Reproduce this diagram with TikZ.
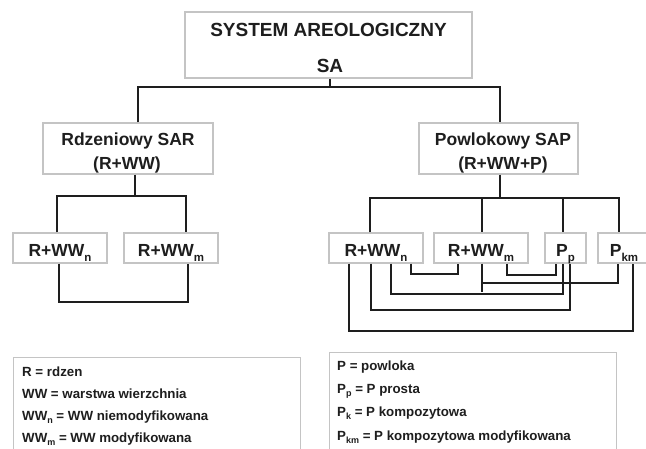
\documentclass[tikz,border=0pt]{standalone}
\usepackage{fontspec}
\setmainfont{Liberation Sans}
\definecolor{ink}{HTML}{1E1E1E}
\definecolor{boxgray}{HTML}{C4C4C4}
\newcommand\bsub[1]{\raisebox{-5pt}{\fontsize{11.5pt}{12pt}\selectfont #1}}
\newcommand\lsub[1]{\raisebox{-3.5pt}{\fontsize{9pt}{10pt}\selectfont #1}}
\begin{document}
\begin{tikzpicture}[x=1pt,y=-1pt,
  box/.style={draw=boxgray, line width=1.1pt, fill=white, inner sep=0pt},
  lbl/.style={font=\fontsize{17.5pt}{20pt}\selectfont\bfseries, text=ink, inner sep=0pt},
  ttl/.style={font=\fontsize{19pt}{22pt}\selectfont\bfseries, text=ink, inner sep=0pt, anchor=base},
  smallbox/.style={box, lbl, minimum height=30pt, text height=16pt, text depth=0pt},
  legt/.style={font=\fontsize{13.3pt}{15pt}\selectfont\bfseries, text=ink, inner sep=0pt, anchor=base west},
  conn/.style={draw=ink, line width=2pt}]
\useasboundingbox (0,0) rectangle (646,448);
\clip (0,0) rectangle (646,448);
\fill[white] (0,0) rectangle (646,448);

% boxes
\node[box, minimum width=287pt, minimum height=66pt] (sa) at (328.5,45) {};
\node[ttl] (satxt1) at (328.5,36) {SYSTEM AREOLOGICZNY};
\node[ttl] (satxt2) at (330,72) {SA};

\node[box, minimum width=170pt, minimum height=51pt] (sar) at (128,148.5) {};
\node[lbl, anchor=base] (sart1) at (128,145.5) {Rdzeniowy SAR};
\node[lbl, anchor=base] (sart2) at (127,169.5) {(R+WW)};

\node[box, minimum width=159pt, minimum height=51pt] (sap) at (498.5,148.5) {};
\node[lbl, anchor=base] (sapt1) at (503,145.5) {Powlokowy SAP};
\node[lbl, anchor=base] (sapt2) at (503,169.5) {(R+WW+P)};

\node[smallbox, minimum width=94pt] (ln) at (60,248) {R+WW\bsub{n}};
\node[smallbox, minimum width=94pt] (lm) at (171,248) {R+WW\bsub{m}};

\node[smallbox, minimum width=94pt] (rn) at (376,248) {R+WW\bsub{n}};
\node[smallbox, minimum width=94pt] (rm) at (481,248) {R+WW\bsub{m}};
\node[smallbox, minimum width=41pt] (pp) at (565.5,248) {P\bsub{p}};
\node[smallbox, minimum width=52pt] (pkm) at (624,248) {P\bsub{km}};

% legends
\node[box, anchor=north west, minimum width=287pt, minimum height=120pt] (lg1) at (13,357) {};
\node[legt] (l1) at (22,376) {R = rdzen};
\node[legt] (l2) at (22,398) {WW = warstwa wierzchnia};
\node[legt] (l3) at (22,420) {WW\lsub{n} = WW niemodyfikowana};
\node[legt] (l4) at (22,442) {WW\lsub{m} = WW modyfikowana};

\node[box, anchor=north west, minimum width=287pt, minimum height=120pt] (lg2) at (329,352) {};
\node[legt] (r1) at (337,370) {P = powloka};
\node[legt] (r2) at (337,393) {P\lsub{p} = P prosta};
\node[legt] (r3) at (337,416) {P\lsub{k} = P kompozytowa};
\node[legt] (r4) at (337,440) {P\lsub{km} = P kompozytowa modyfikowana};

% connector coordinates
\coordinate (b0) at (330,87);
\coordinate (bl) at (138,87);
\coordinate (br) at (500,87);
\coordinate (c0) at (135,196);
\coordinate (cl) at (57,196);
\coordinate (cr) at (186,196);
\coordinate (d1) at (59,302);
\coordinate (d2) at (188,302);
\coordinate (e0) at (500,198);
\coordinate (el) at (370,198);
\coordinate (er) at (619,198);
\coordinate (em) at (482,198);
\coordinate (ep) at (563,198);
\coordinate (f1) at (411,274);
\coordinate (f2) at (458,274);
\coordinate (g1) at (507,275);
\coordinate (g2) at (556,275);
\coordinate (h0) at (482,292);
\coordinate (h1) at (482,283);
\coordinate (h2) at (618,283);
\coordinate (i1) at (391,294);
\coordinate (i2) at (563,294);
\coordinate (j1) at (371,310);
\coordinate (j2) at (570,310);
\coordinate (k1) at (349,331);
\coordinate (k2) at (633,331);

% connectors
\draw[conn] (sa.south -| b0) -- (b0);
\draw[conn] (sar.north -| bl) -- (bl) -- (br) -- (sap.north -| br);
\draw[conn] (sar.south -| c0) -- (c0);
\draw[conn] (ln.north -| cl) -- (cl) -- (cr) -- (lm.north -| cr);
\draw[conn] (ln.south -| d1) -- (d1) -- (d2) -- (lm.south -| d2);
\draw[conn] (sap.south -| e0) -- (e0);
\draw[conn] (rn.north -| el) -- (el) -- (er) -- (pkm.north -| er);
\draw[conn] (em) -- (rm.north -| em);
\draw[conn] (ep) -- (pp.north -| ep);
\draw[conn] (rn.south -| f1) -- (f1) -- (f2) -- (rm.south -| f2);
\draw[conn] (rm.south -| g1) -- (g1) -- (g2) -- (pp.south -| g2);
\draw[conn] (rm.south -| h0) -- (h0);
\draw[conn] (h1) -- (h2) -- (pkm.south -| h2);
\draw[conn] (rn.south -| i1) -- (i1) -- (i2) -- (pp.south -| i2);
\draw[conn] (rn.south -| j1) -- (j1) -- (j2) -- (pp.south -| j2);
\draw[conn] (rn.south -| k1) -- (k1) -- (k2) -- (pkm.south -| k2);
\end{tikzpicture}
\end{document}
